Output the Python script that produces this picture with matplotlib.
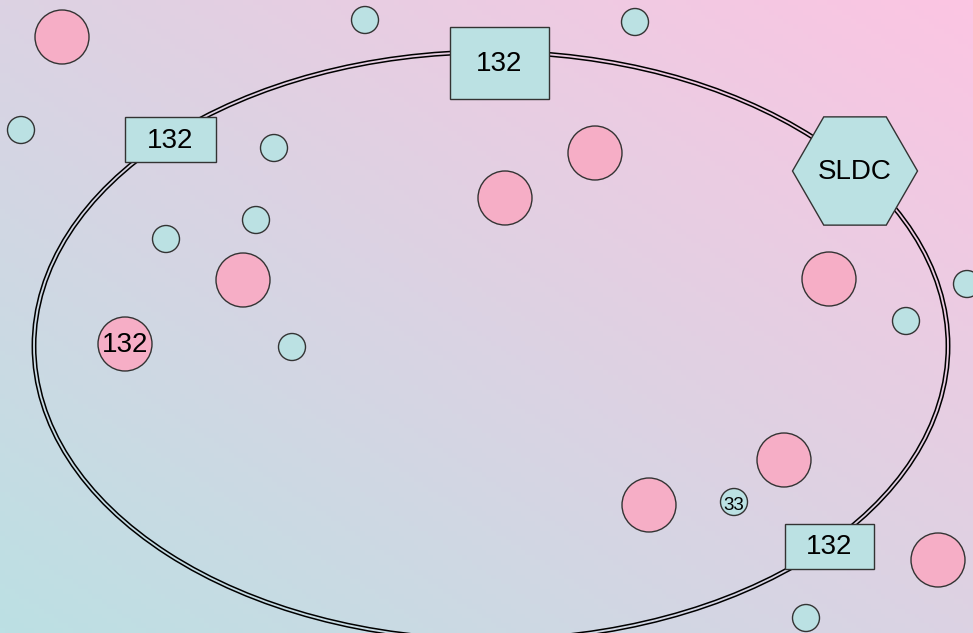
import numpy as np
import matplotlib.pyplot as plt
from matplotlib.patches import Circle, Rectangle, RegularPolygon, Ellipse

W, H = 973, 633

# ring (ellipse) centre and half-axes, pixel units
ring_center = (491, 346)
ring_half_axes = (457, 294)

# big pink nodes: x, y, label
pink_x = [62, 595, 505, 243, 829, 125, 784, 649, 938]
pink_y = [37, 153, 198, 280, 279, 344, 460, 505, 560]
pink_labels = ["", "", "", "", "", "132", "", "", ""]

# small cyan nodes
cyan_x = [365, 635, 21, 274, 256, 166, 292, 906, 967, 734, 806]
cyan_y = [20, 22, 130, 148, 220, 239, 347, 321, 284, 502, 618]
cyan_labels = ["", "", "", "", "", "", "", "", "", "33", ""]

# substations on the ring: left, top, width, height, label
box_x = [450, 125, 785]
box_y = [27, 117, 524]
box_w = [99, 91, 89]
box_h = [72, 45, 45]
box_labels = ["132", "132", "132"]

hex_center = (855, 171)
hex_label = "SLDC"

PINK = "#f6aec6"
CYAN = "#bbe1e3"
EDGE = "#333333"

plt.rcParams["font.family"] = ["Liberation Sans", "DejaVu Sans"]

fig = plt.figure(figsize=(W / 100, H / 100), dpi=100)
ax = fig.add_axes([0, 0, 1, 1])
ax.set_xlim(0, W)
ax.set_ylim(H, 0)
ax.axis("off")

# diagonal background: cyan bottom-left -> pink top-right
gx, gy = np.meshgrid(np.linspace(0, 1, 200), np.linspace(0, 1, 130))
t = (gx + (1 - gy)) / 2
c0 = np.array([0xbc, 0xe0, 0xe4]) / 255
c1 = np.array([0xfc, 0xc5, 0xe2]) / 255
bg = c0 + (c1 - c0) * t[..., None]
ax.imshow(bg, extent=[0, W, H, 0], aspect="auto", zorder=0)

# double-line ring
for d in (-1.7, 1.7):
    ax.add_patch(Ellipse(ring_center, 2 * (ring_half_axes[0] + d), 2 * (ring_half_axes[1] + d),
                         fill=False, ec="black", lw=1.1, zorder=1))

for x, y, lab in zip(pink_x, pink_y, pink_labels):
    ax.add_patch(Circle((x, y), 27, fc=PINK, ec=EDGE, lw=1.0, zorder=2))
    if lab:
        ax.text(x, y + 1, lab, ha="center", va="center", fontsize=20, zorder=3)

for x, y, lab in zip(cyan_x, cyan_y, cyan_labels):
    ax.add_patch(Circle((x, y), 13.5, fc=CYAN, ec=EDGE, lw=1.0, zorder=2))
    if lab:
        ax.text(x, y + 3, lab, ha="center", va="center", fontsize=13.5, zorder=3)

for x, y, w, h, lab in zip(box_x, box_y, box_w, box_h, box_labels):
    ax.add_patch(Rectangle((x, y), w, h, fc=CYAN, ec=EDGE, lw=1.0, zorder=2))
    ax.text(x + w / 2, y + h / 2 + 1, lab, ha="center", va="center", fontsize=20, zorder=3)

ax.add_patch(RegularPolygon(hex_center, 6, radius=62.5, orientation=np.pi / 6,
                            fc=CYAN, ec=EDGE, lw=1.0, zorder=2))
ax.text(hex_center[0], hex_center[1] + 1, hex_label, ha="center", va="center", fontsize=20, zorder=3)

fig.savefig("out.png", dpi=100)
